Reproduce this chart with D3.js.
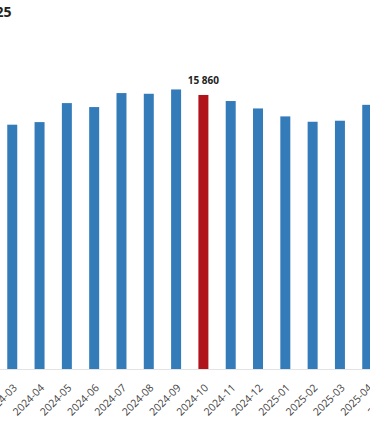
<!DOCTYPE html>
<html>
<head>
<meta charset="utf-8">
<script src="https://cdn.jsdelivr.net/npm/d3@7"></script>
<style>
  html, body { margin: 0; padding: 0; background: #fff; overflow: hidden; }
  #chart { width: 370px; height: 430px; }
</style>
</head>
<body>
<div id="chart"></div>
<script>
// Chart data
const months = ['2024-03', '2024-04', '2024-05', '2024-06', '2024-07', '2024-08', '2024-09',
    '2024-10', '2024-11', '2024-12', '2025-01', '2025-02', '2025-03', '2025-04', '2025-05'];
const values = [14140, 14290, 15390, 15160, 15970, 15930, 16180,
    15860, 15510, 15080, 14620, 14310, 14370, 15290];
const highlightMonth = '2024-10';
const titleText = '2024–2025';

const data = values.map((v, i) => ({ month: months[i], value: v }));

// Chart setup (the visible area is a window on a wider chart)
const margin = { top: 58, right: 0, bottom: 61, left: -1.4 };
const width = 409.6;
const height = 430 - margin.top - margin.bottom;

const root = d3.select('#chart')
    .append('svg')
    .attr('width', 370)
    .attr('height', 430);

// Title (only its end is inside the window)
root.append('text')
    .attr('x', 11.5)
    .attr('y', 17)
    .attr('text-anchor', 'end')
    .style('font-family', '"Open Sans", sans-serif')
    .style('font-size', '14px')
    .style('font-weight', 'bold')
    .style('fill', '#222')
    .text(titleText);

const svg = root.append('g')
    .attr('transform', `translate(${margin.left},${margin.top})`);

// Scales
const x = d3.scaleBand()
    .domain(months)
    .range([0, width])
    .paddingInner(0.634)
    .paddingOuter(0.317);

const y = d3.scaleLinear()
    .domain([0, 18000])
    .range([height, 0]);

// X axis
const xAxis = svg.append('g')
    .attr('transform', `translate(0,${height})`)
    .call(d3.axisBottom(x).tickSize(0).tickPadding(0));

xAxis.select('.domain')
    .style('stroke', '#e3e3e3');

xAxis.selectAll('text')
    .style('font-family', '"Open Sans", sans-serif')
    .style('font-size', '10.5px')
    .style('fill', '#3f3f3f')
    .attr('text-anchor', 'end')
    .attr('dy', null)
    .attr('y', null)
    .attr('transform', 'translate(5.5,19.5) rotate(-45)');

// Bars
svg.append('g')
    .selectAll('rect')
    .data(data)
    .enter()
    .append('rect')
    .attr('x', d => x(d.month))
    .attr('y', d => y(d.value))
    .attr('width', x.bandwidth())
    .attr('height', d => height - y(d.value))
    .attr('fill', d => d.month === highlightMonth ? '#b0131b' : '#347cb9');

// Value label on the highlighted bar
svg.append('g')
    .selectAll('text')
    .data(data.filter(d => d.month === highlightMonth))
    .enter()
    .append('text')
    .attr('x', d => x(d.month) + x.bandwidth() / 2)
    .attr('y', d => y(d.value) - 10.5)
    .attr('text-anchor', 'middle')
    .style('font-family', '"Open Sans", sans-serif')
    .style('font-size', '10px')
    .style('font-weight', 'bold')
    .style('fill', '#222')
    .text(d => d3.format(',')(d.value).replace(/,/g, ' '));
</script>
</body>
</html>
